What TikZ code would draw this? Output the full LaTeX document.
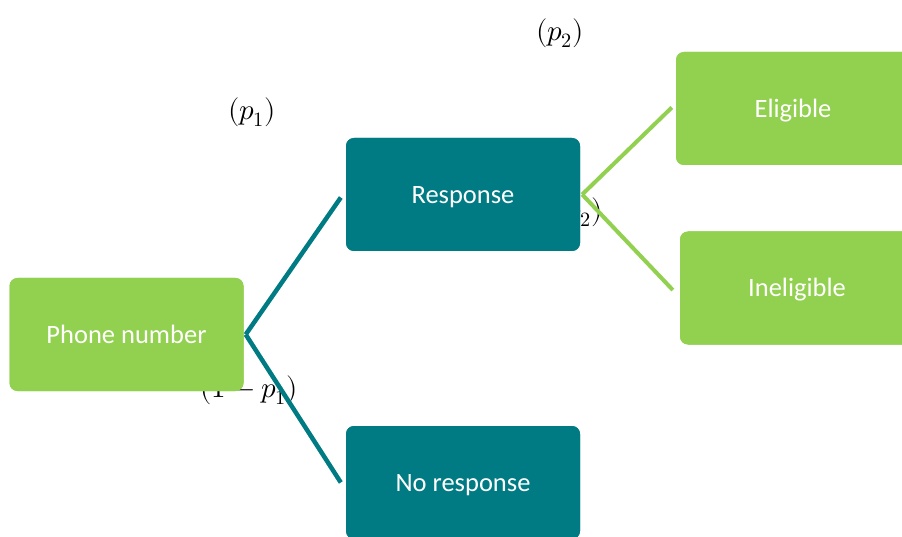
\documentclass[tikz,border=0pt]{standalone}
\usepackage{fontspec}
\usepackage{unicode-math}
\newfontfamily\boxfont{Carlito}
\definecolor{lgreen}{HTML}{92D050}
\definecolor{teal}{HTML}{007B83}
\begin{document}
\begin{tikzpicture}[x=1pt,y=-1pt,
  box/.style={rounded corners=8pt, minimum width=234pt, minimum height=113pt, inner sep=0pt},
  gbox/.style={box, fill=lgreen},
  tbox/.style={box, fill=teal},
  prob/.style={font=\fontsize{29}{33}\selectfont, inner sep=0pt},
  tline/.style={draw=teal, line width=4.5pt},
  gline/.style={draw=lgreen, line width=4pt},
  lbl/.style={text=white, inner sep=0pt, text height=0.75em, text depth=0.25em,
    font=\boxfont\fontsize{26.5}{30}\selectfont}]
\useasboundingbox (0,0) rectangle (902,537);
\clip (0,0) rectangle (902,537);
\fill[white] (0,0) rectangle (902,537);
% probability labels (drawn first, partly hidden by boxes)
\node[prob] (lp1) at (252,112) {$(p_1)$};
\node[prob] (lp2) at (560,33) {$(p_2)$};
\node[prob, anchor=east] (lq1) at (298,390) {$(1 - p_1)$};
\node[prob, anchor=east] (lq2) at (603,212) {$(1 - p_2)$};
% boxes
\path (126.5,334.5) node[gbox] (phone) {};
\path (463,194.5) node[tbox] (resp) {};
\path (463,482.5) node[tbox] (nresp) {};
\path (793,108.5) node[gbox] (elig) {};
\path (797,288) node[gbox] (inel) {};
% connectors
\draw[tline] ([xshift=2pt]phone.east) -- ([shift={(-5pt,-3pt)}]resp.west);
\draw[tline] ([xshift=2pt]phone.east) -- ([xshift=-5pt]nresp.west);
\draw[gline] ([xshift=2pt]resp.east) -- ([shift={(-4pt,1pt)}]elig.west);
\draw[gline] ([xshift=2pt]resp.east) -- ([shift={(-7pt,-2pt)}]inel.west);
% boxes redrawn on top of the labels, with their texts
\path (126.5,334.5) node[gbox] {};
\path (463,194.5) node[tbox] {};
\path (463,482.5) node[tbox] {};
\path (793,108.5) node[gbox] {};
\path (797,288) node[gbox] {};
\node[lbl] (tphone) at ([yshift=-6.5pt]phone.center) {Phone number};
\node[lbl] (tresp) at ([yshift=-6.5pt]resp.center) {Response};
\node[lbl] (tnresp) at ([yshift=-6.5pt]nresp.center) {No response};
\node[lbl] (telig) at ([yshift=-6.5pt]elig.center) {Eligible};
\node[lbl] (tinel) at ([yshift=-6.5pt]inel.center) {Ineligible};
\end{tikzpicture}
\end{document}
